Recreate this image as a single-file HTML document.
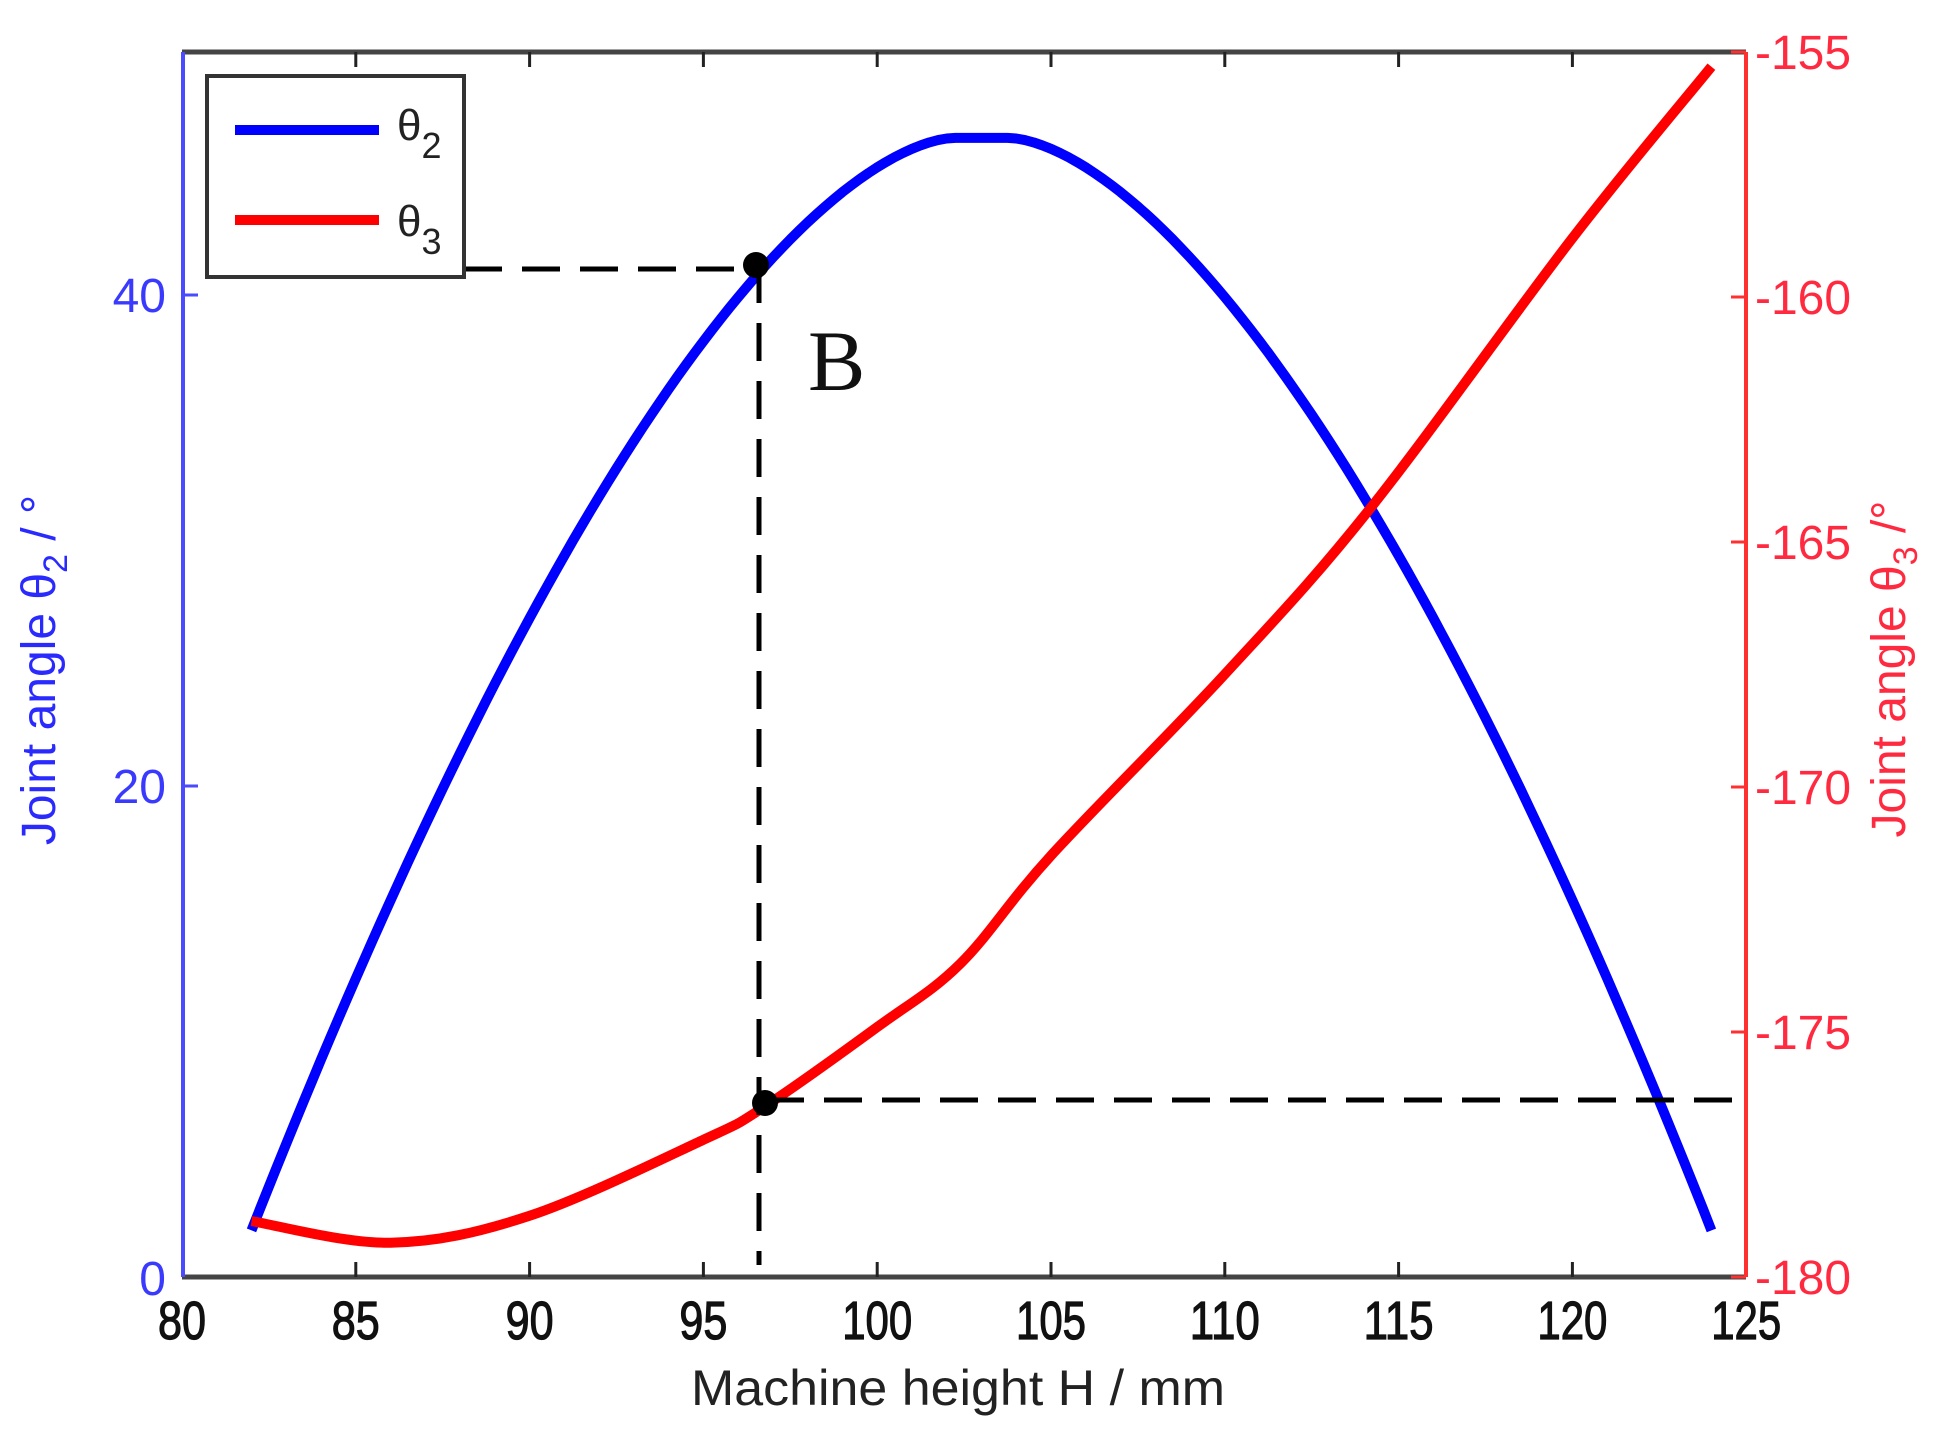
<!DOCTYPE html>
<html><head><meta charset="utf-8"><style>
html,body{margin:0;padding:0;background:#fff;}
svg{display:block;}
text{font-family:"Liberation Sans",Arial,sans-serif;}
</style></head><body>
<svg id="s" width="1953" height="1440" viewBox="0 0 1953 1440" xmlns="http://www.w3.org/2000/svg">
<rect width="1953" height="1440" fill="#fff"/>
<line x1="182" y1="52" x2="1746" y2="52" stroke="#444" stroke-width="5"/>
<line x1="182" y1="1277" x2="1746" y2="1277" stroke="#444" stroke-width="5"/>
<line x1="183" y1="52" x2="183" y2="1277" stroke="#4a4aff" stroke-width="4"/>
<line x1="1746" y1="52" x2="1746" y2="1277" stroke="#ff3030" stroke-width="4"/>
<g id="xt" stroke="#222" stroke-width="3"></g>
<g stroke="#4a4aff" stroke-width="3">
<line x1="183" y1="786" x2="198" y2="786"/><line x1="183" y1="295" x2="198" y2="295"/>
</g>
<g stroke="#ff3030" stroke-width="3">
<line x1="1731" y1="52" x2="1746" y2="52"/><line x1="1731" y1="297" x2="1746" y2="297"/>
<line x1="1731" y1="542" x2="1746" y2="542"/><line x1="1731" y1="787" x2="1746" y2="787"/>
<line x1="1731" y1="1032" x2="1746" y2="1032"/><line x1="1731" y1="1277" x2="1746" y2="1277"/>
</g>
<g id="xl" font-size="54" fill="#111" stroke="#111" stroke-width="1.2" text-anchor="middle"></g>
<g font-size="48" fill="#3a3aff" text-anchor="end">
<text x="166" y="1295">0</text><text x="166" y="803">20</text><text x="166" y="312">40</text>
</g>
<g font-size="48" fill="#ff2a40">
<text x="1755" y="69">-155</text><text x="1755" y="314">-160</text><text x="1755" y="559">-165</text>
<text x="1755" y="804">-170</text><text x="1755" y="1049">-175</text><text x="1755" y="1294">-180</text>
</g>
<text x="958" y="1405" font-size="50" fill="#222" text-anchor="middle" textLength="534" lengthAdjust="spacingAndGlyphs">Machine height H / mm</text>
<text transform="translate(55,670) rotate(-90)" font-size="48" fill="#2a2aff" text-anchor="middle">Joint angle θ<tspan font-size="34" dy="12">2</tspan><tspan dy="-12"> / °</tspan></text>
<text transform="translate(1905,669) rotate(-90)" font-size="48" fill="#ff2a40" text-anchor="middle">Joint angle θ<tspan font-size="34" dy="12">3</tspan><tspan dy="-12"> /°</tspan></text>
<polyline id="blue" fill="none" stroke="#0000ff" stroke-width="10" stroke-linejoin="round"/>
<path id="red" fill="none" stroke="#ff0000" stroke-width="10" stroke-linejoin="round"/>
<g stroke="#000" stroke-width="5" stroke-dasharray="38 20" fill="none">
<line x1="464" y1="269" x2="756" y2="269"/>
<line x1="759" y1="265" x2="759" y2="1265"/>
<line x1="766" y1="1100" x2="1746" y2="1100"/>
</g>
<circle cx="756" cy="265" r="13" fill="#000"/>
<circle cx="765" cy="1103" r="13" fill="#000"/>
<text x="808" y="390" font-size="86" fill="#111" style="font-family:'Liberation Serif',serif">B</text>
<rect x="207" y="76" width="257" height="201" fill="#fff" stroke="#333" stroke-width="4"/>
<line x1="235" y1="130" x2="379" y2="130" stroke="#0000ff" stroke-width="10"/>
<line x1="235" y1="220" x2="379" y2="220" stroke="#ff0000" stroke-width="10"/>
<text x="397" y="140" font-size="44" fill="#222">θ<tspan font-size="36" dy="18">2</tspan></text>
<text x="397" y="236" font-size="44" fill="#222">θ<tspan font-size="36" dy="18">3</tspan></text>
</svg>
<script>
var X=function(h){return 182+(h-80)*34.76;};
var Y2=function(v){return 1277-v*24.55;};
var Y3=function(v){return 1277-(v+180)*49;};
function fb(h){var u=Math.max(0,Math.abs(h-103)-0.8)/20.2;return 46.4-44.5*Math.pow(u,1.63);}
var pb=[];for(var h=82;h<=124.001;h+=0.25){pb.push(X(h).toFixed(1)+','+Y2(fb(h)).toFixed(1));}
document.getElementById('blue').setAttribute('points',pb.join(' '));
var r=[[82,-178.86],[86,-179.3],[90,-178.75],[95,-177.2],[96.7,-176.55],[100,-174.9],[102.4,-173.6],[105,-171.4],[110,-167.7],[114.2,-164.3],[120,-158.8],[124,-155.3]];
function cr(pts){var d='M'+pts[0][0].toFixed(1)+','+pts[0][1].toFixed(1);
 for(var i=0;i<pts.length-1;i++){var p0=pts[i>0?i-1:i],p1=pts[i],p2=pts[i+1],p3=pts[i+2<pts.length?i+2:i+1];
  var c1x=p1[0]+(p2[0]-p0[0])/6,c1y=p1[1]+(p2[1]-p0[1])/6,c2x=p2[0]-(p3[0]-p1[0])/6,c2y=p2[1]-(p3[1]-p1[1])/6;
  d+=' C'+c1x.toFixed(1)+','+c1y.toFixed(1)+' '+c2x.toFixed(1)+','+c2y.toFixed(1)+' '+p2[0].toFixed(1)+','+p2[1].toFixed(1);}
 return d;}
document.getElementById('red').setAttribute('d',cr(r.map(function(p){return [X(p[0]),Y3(p[1])];})));
var ns='http://www.w3.org/2000/svg',xt=document.getElementById('xt'),xl=document.getElementById('xl');
for(var h=80;h<=125;h+=5){var x=X(h);
 if(h>80&&h<125){[[52,67],[1262,1277]].forEach(function(s){var l=document.createElementNS(ns,'line');l.setAttribute('x1',x);l.setAttribute('x2',x);l.setAttribute('y1',s[0]);l.setAttribute('y2',s[1]);xt.appendChild(l);});}
 var t=document.createElementNS(ns,'text');t.setAttribute('x',x);t.setAttribute('y',1339);t.textContent=h;
 t.setAttribute('textLength',h>=100?70:48);t.setAttribute('lengthAdjust','spacingAndGlyphs');xl.appendChild(t);}
</script>
</body></html>
